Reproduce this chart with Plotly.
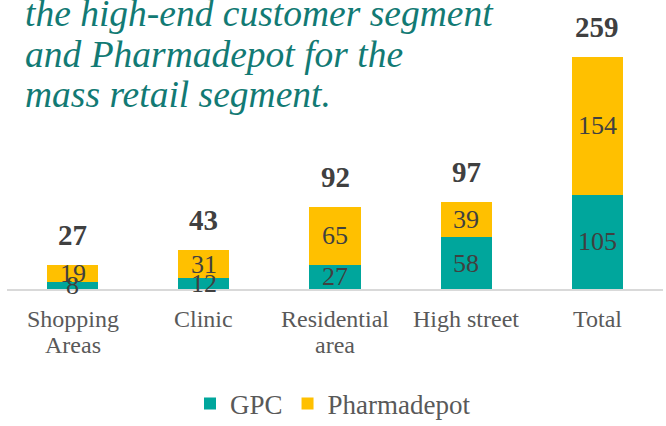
import plotly.graph_objects as go

categories = ["Shopping<br>Areas", "Clinic", "Residential<br>area", "High street", "Total"]
gpc = [8, 12, 27, 58, 105]
pharmadepot = [19, 31, 65, 39, 154]
totals = [g + p for g, p in zip(gpc, pharmadepot)]
title_lines = ["the high-end customer segment", "and Pharmadepot for the", "mass retail segment."]

TEAL = "#00A69C"
YELLOW = "#FFC000"
LABEL = "#404040"
CAT = "#595959"
FONT = "Liberation Serif"

fig = go.Figure()
fig.add_trace(go.Bar(x=categories, y=gpc, name="GPC", marker=dict(color=TEAL, line=dict(width=0))))
fig.add_trace(go.Bar(x=categories, y=pharmadepot, name="Pharmadepot", marker=dict(color=YELLOW, line=dict(width=0))))

ann = []
for c, g, p, t in zip(categories, gpc, pharmadepot, totals):
    ann.append(dict(x=c, y=g / 2, text=str(g), showarrow=False, yanchor="middle",
                    font=dict(family=FONT, size=26, color=LABEL)))
    ann.append(dict(x=c, y=g + p / 2, text=str(p), showarrow=False, yanchor="middle",
                    font=dict(family=FONT, size=26, color=LABEL)))
    ann.append(dict(x=c, y=t, text="<b>%d</b>" % t, showarrow=False, yanchor="middle", yshift=30,
                    font=dict(family=FONT, size=29, color=LABEL)))
    # category labels (tight line spacing as in the reference)
    for i, line in enumerate(c.split("<br>")):
        ann.append(dict(x=c, xref="x", yref="paper", y=-0.1038 - i * 0.09, text=line,
                        showarrow=False, yanchor="middle",
                        font=dict(family=FONT, size=24, color=CAT)))

title_y = [0.9516, 0.8131, 0.6747]
for line, yy in zip(title_lines, title_y):
    ann.append(dict(xref="paper", yref="paper", x=0.024, y=yy, xanchor="left", yanchor="middle",
                    align="left", showarrow=False, text="<i>%s</i>" % line,
                    font=dict(family=FONT, size=37.5, color="#127A74")))

fig.update_layout(
    width=666, height=426,
    margin=dict(l=7, r=3, t=0, b=137),
    barmode="stack", bargap=0.61,
    plot_bgcolor="white", paper_bgcolor="white",
    font=dict(family=FONT),
    showlegend=True,
    legend=dict(orientation="h", x=0.5, xanchor="center", xref="container",
                y=0.052, yanchor="middle", yref="container",
                font=dict(family=FONT, size=27, color=CAT), traceorder="normal"),
    annotations=ann,
    xaxis=dict(showline=True, linecolor="#D9D9D9", linewidth=2, showgrid=False,
               showticklabels=False, ticks=""),
    yaxis=dict(range=[0, 322.5], visible=False, showgrid=False, zeroline=False),
)
fig.write_html("out.html")
